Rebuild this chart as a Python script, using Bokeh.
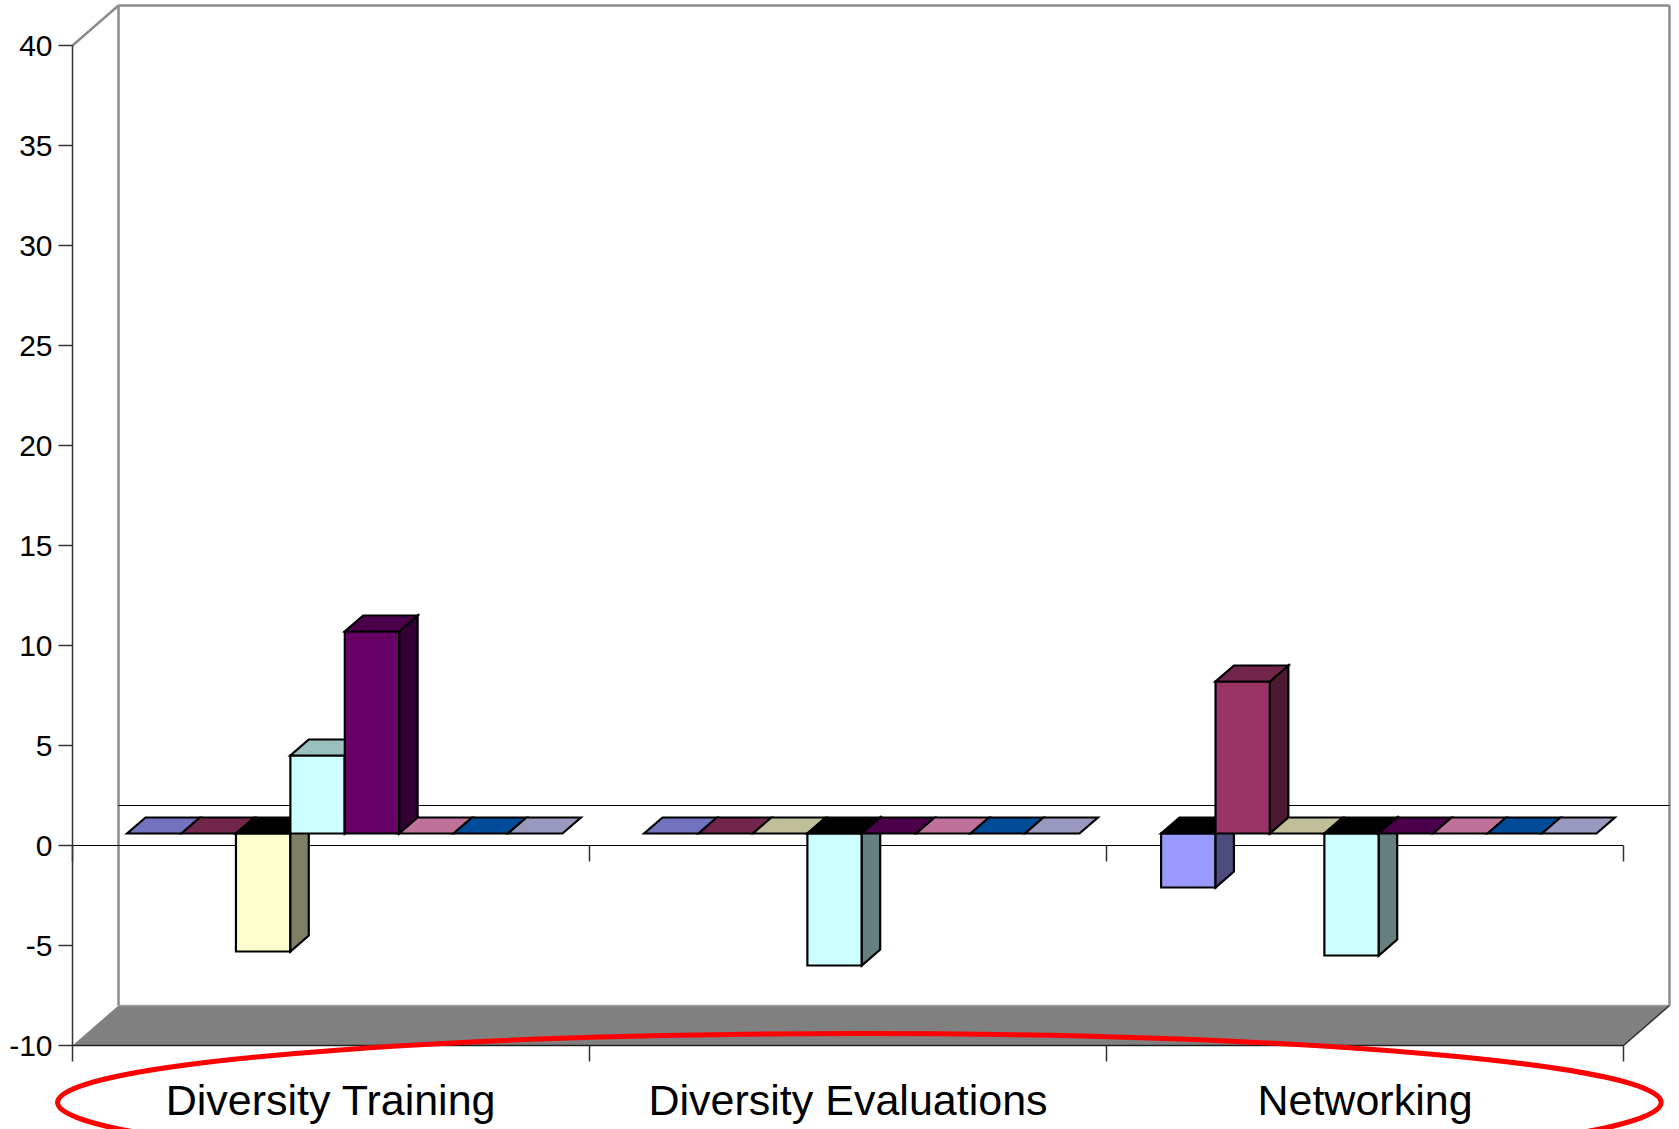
from bokeh.plotting import figure
from bokeh.models import Range1d
from bokeh.core.properties import value
from bokeh.embed import file_html
from bokeh.resources import INLINE

# ---- data -------------------------------------------------------------
categories = ["Diversity Training", "Diversity Evaluations", "Networking"]

series_1 = [0.0, 0.0, -2.7]
series_2 = [0.0, 0.0, 7.6]
series_3 = [-5.9, 0.0, 0.0]
series_4 = [3.9, -6.6, -6.1]
series_5 = [10.1, 0.0, 0.0]
series_6 = [0.0, 0.0, 0.0]
series_7 = [0.0, 0.0, 0.0]
series_8 = [0.0, 0.0, 0.0]

series_values = [series_1, series_2, series_3, series_4,
                 series_5, series_6, series_7, series_8]
series_colors = ["#9999FF", "#993366", "#FFFFCC", "#CCFFFF",
                 "#660066", "#FF99CC", "#0066CC", "#CCCCFF"]

y_ticks = [-10, -5, 0, 5, 10, 15, 20, 25, 30, 35, 40]
y_tick_labels = ["-10", "-5", "0", "5", "10", "15", "20", "25", "30", "35", "40"]
Y_MIN, Y_MAX = -10, 40

# ---- 3-D projection settings -------------------------------------------
CAT_PX = 517.0         # pixel width of one category
DX = 46 / CAT_PX       # depth shift in category units
DY = 2.0               # depth shift in value units
Z0, Z1 = 0.3, 0.7      # front / back depth of the columns
GAP = 1.5              # gap width, in column widths
n_cat = len(categories)
n_ser = len(series_values)
w = 1.0 / (n_ser + GAP)
PX = 1.0 / CAT_PX      # one pixel in x data units


def proj(x, v, z):
    return x + z * DX, v + z * DY


def shade(hexc, f):
    h = hexc.lstrip("#")
    r, g, b = (int(h[i:i + 2], 16) for i in (0, 2, 4))
    return "#%02x%02x%02x" % (int(r * f), int(g * f), int(b * f))


def face(corners):
    pts = [proj(*c) for c in corners]
    return [p[0] for p in pts], [p[1] for p in pts]


p = figure(width=1679, height=1129, output_backend="svg", toolbar_location=None,
           x_range=Range1d(-72 * PX, 1607 * PX), y_range=Range1d(-14.2, 42.25),
           x_axis_type=None, y_axis_type=None,
           min_border_left=0, min_border_right=0,
           min_border_top=0, min_border_bottom=0)
p.outline_line_color = None
p.background_fill_color = "white"
p.border_fill_color = "white"

# ---- walls and floor ----------------------------------------------------
fx, fy = face([(0, Y_MIN, 0), (n_cat, Y_MIN, 0), (n_cat, Y_MIN, 1), (0, Y_MIN, 1)])
p.patch(fx, fy, fill_color="#808080", line_color=None)
p.line([DX, n_cat + DX], [Y_MIN + DY, Y_MIN + DY], line_color="#a0a0a0", line_width=1.5)

wall = "#8c8c8c"
p.line([0, DX], [Y_MAX, Y_MAX + DY], line_color=wall, line_width=2.5)
p.line([DX, n_cat + DX], [Y_MAX + DY, Y_MAX + DY], line_color=wall, line_width=2.5)
p.line([DX, DX], [Y_MAX + DY, Y_MIN + DY], line_color=wall, line_width=2.5)
p.line([n_cat + DX, n_cat + DX], [Y_MAX + DY, Y_MIN + DY], line_color=wall, line_width=2.5)
p.line([n_cat, n_cat + DX], [Y_MIN, Y_MIN + DY], line_color="#303030", line_width=1.5)

# floor front edge (category axis) with ticks
p.line([0, n_cat], [Y_MIN, Y_MIN], line_color="#202020", line_width=1.5)
p.segment(x0=list(range(n_cat + 1)), y0=[Y_MIN] * (n_cat + 1),
          x1=list(range(n_cat + 1)), y1=[Y_MIN - 0.8] * (n_cat + 1),
          line_color="#303030", line_width=1.5)

# zero plane: back and front lines, ticks on the front one
p.line([DX, n_cat + DX], [DY, DY], line_color="black", line_width=1.2)
p.line([0, n_cat], [0, 0], line_color="black", line_width=1.2)
p.segment(x0=list(range(n_cat + 1)), y0=[0] * (n_cat + 1),
          x1=list(range(n_cat + 1)), y1=[-0.8] * (n_cat + 1),
          line_color="#303030", line_width=1.5)

# ---- value axis: line, outward ticks, labels ---------------------------
p.line([0, 0], [Y_MIN, Y_MAX], line_color="#333333", line_width=1.5)
p.segment(x0=[-14 * PX] * len(y_ticks), y0=y_ticks,
          x1=[0] * len(y_ticks), y1=y_ticks,
          line_color="#333333", line_width=1.5)
p.text(x=[-20 * PX] * len(y_ticks), y=y_ticks, text=y_tick_labels,
       text_align="right", text_baseline="middle",
       text_font=value("Liberation Sans"), text_font_size="30px", text_color="black")

# ---- columns ------------------------------------------------------------
xs, ys, fills = [], [], []
for c in range(n_cat):
    for s in range(n_ser):
        val = series_values[s][c]
        col = series_colors[s]
        x0 = c + (GAP / 2) * w + s * w
        x1 = x0 + w
        if val != 0:
            fxs, fys = face([(x0, 0, Z0), (x1, 0, Z0), (x1, val, Z0), (x0, val, Z0)])
            xs.append(fxs); ys.append(fys); fills.append(col)
            sxs, sys_ = face([(x1, 0, Z0), (x1, 0, Z1), (x1, val, Z1), (x1, val, Z0)])
            xs.append(sxs); ys.append(sys_); fills.append(shade(col, 0.5))
        top = max(val, 0)
        tcol = "#000000" if val < 0 else shade(col, 0.75)
        txs, tys = face([(x0, top, Z0), (x1, top, Z0), (x1, top, Z1), (x0, top, Z1)])
        xs.append(txs); ys.append(tys); fills.append(tcol)

p.patches(xs, ys, fill_color=fills, line_color="black", line_width=2.2, line_join="miter")

# ---- category labels and highlight ring --------------------------------
p.text(x=[c + 0.5 for c in range(n_cat)], y=[-12.7] * n_cat, text=categories,
       text_align="center", text_baseline="middle",
       text_font=value("Liberation Sans"), text_font_size="43px", text_color="black")

p.ellipse(x=[1.522], y=[-12.85], width=[3.102], height=[6.9],
          fill_color=None, line_color="#ff0000", line_width=5)

open("out.html", "w").write(file_html(p, INLINE))
